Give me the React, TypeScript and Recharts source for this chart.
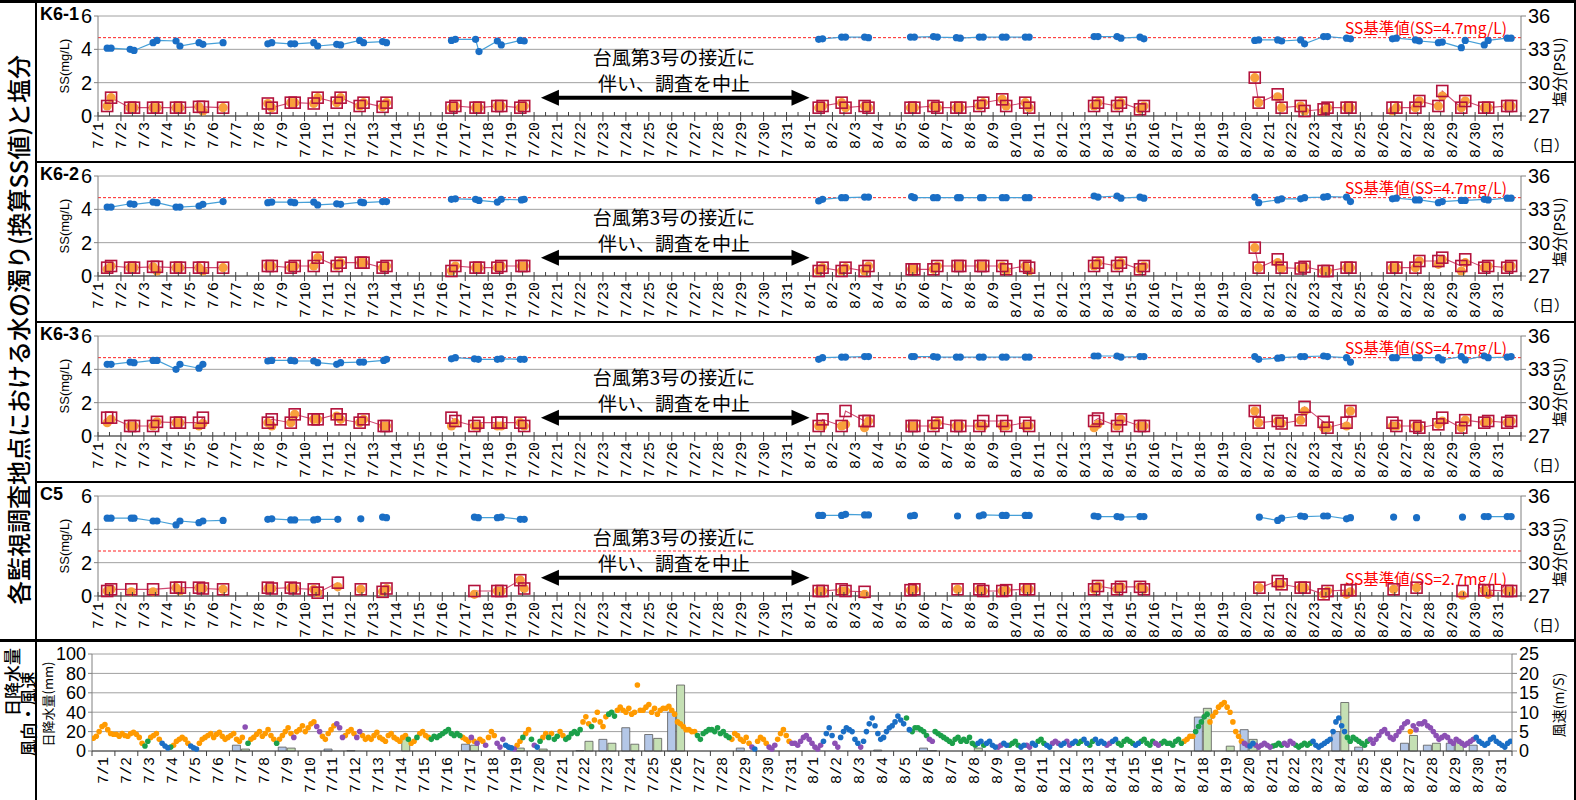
import React from 'react'
import {
  ComposedChart, BarChart, Line, Scatter, Bar, XAxis, YAxis, CartesianGrid,
  ReferenceLine, ReferenceDot,
} from 'recharts'

// フォント
const JP = "'Noto Sans CJK JP', 'Noto Sans', sans-serif"
const NARROW = "'Liberation Sans Narrow', 'Liberation Sans', Arial, sans-serif"
const MONO = "'Liberation Mono', 'DejaVu Sans Mono', monospace"

// 日付ラベル (7/1 = 1 ... 8/31 = 62)
const dayLabels = [
  '7/1','7/2','7/3','7/4','7/5','7/6','7/7','7/8','7/9','7/10','7/11','7/12','7/13','7/14','7/15','7/16',
  '7/17','7/18','7/19','7/20','7/21','7/22','7/23','7/24','7/25','7/26','7/27','7/28','7/29','7/30','7/31',
  '8/1','8/2','8/3','8/4','8/5','8/6','8/7','8/8','8/9','8/10','8/11','8/12','8/13','8/14','8/15','8/16',
  '8/17','8/18','8/19','8/20','8/21','8/22','8/23','8/24','8/25','8/26','8/27','8/28','8/29','8/30','8/31',
]

// 各地点の観測値: [時刻(日), SS上層(□), SS下層(●), 塩分]  null = 線を切る
type Row = [number, number | null, number | null, number] | null

const k61Rows: Row[] = [
  [1.4,.6,.6,33.1],[1.57,1.1,1.1,33.1],[2.4,.5,.5,33.0],[2.57,.5,.5,32.9],[3.4,.5,.5,33.6],[3.57,.5,.5,33.8],
  [4.4,.5,.5,33.75],[4.57,.5,.5,33.3],[5.4,.55,.55,33.6],[5.57,.55,.3,33.45],[6.45,.5,.5,33.6],null,
  [8.4,.75,.75,33.5],[8.57,.5,.5,33.6],[9.4,.8,.8,33.5],[9.57,.8,.8,33.5],[10.4,.75,.75,33.6],[10.57,1.1,1.1,33.3],
  [11.4,.8,.8,33.45],[11.57,1.1,1.1,33.4],[12.4,.6,.6,33.8],[12.57,.8,.8,33.6],[13.4,.55,.55,33.7],[13.57,.8,.8,33.6],null,
  [16.4,.5,.5,33.8],[16.57,.6,.6,33.9],[17.45,.5,.5,33.9],[17.6,.5,.5,32.8],[18.4,.6,.6,33.75],[18.57,.6,.6,33.4],
  [19.4,.5,.5,33.8],[19.57,.6,.6,33.75],null,
  [32.4,.5,.5,33.9],[32.57,.6,.6,33.95],[33.4,.8,.8,34.1],[33.57,.5,.5,34.1],[34.4,.6,.6,34.1],[34.57,.5,.5,34.05],null,
  [36.4,.5,.5,34.1],[36.57,.5,.5,34.1],[37.4,.6,.6,34.15],[37.57,.5,.5,34.1],[38.4,.5,.5,34.05],[38.57,.5,.5,34.0],
  [39.4,.6,.6,34.1],[39.57,.8,.8,34.1],[40.4,1.0,1.0,34.1],[40.57,.6,.6,34.1],[41.4,.8,.8,34.1],[41.57,.5,.5,34.1],null,
  [44.4,.6,.6,34.15],[44.57,.8,.8,34.15],[45.4,.6,.6,34.15],[45.57,.8,.8,34.0],[46.4,.4,.4,34.1],[46.57,.6,.6,33.95],null,
  [51.4,2.3,2.3,33.8],[51.57,.8,.8,33.85],[52.4,1.3,1.15,33.85],[52.57,.5,.5,33.75],[53.4,.6,.6,33.85],[53.57,.3,.3,33.5],
  [54.4,.4,.3,34.15],[54.57,.5,.5,34.15],[55.4,.5,.5,34.0],[55.57,.5,.5,33.95],null,
  [57.4,.5,.3,33.95],[57.57,.5,.5,34.0],[58.4,.5,.5,33.85],[58.57,.9,.9,33.75],[59.4,.6,.6,33.6],[59.57,1.5,1.2,33.65],
  [60.4,.5,.5,33.15],[60.57,.9,.9,33.8],[61.4,.5,.5,33.4],[61.57,.5,.5,33.8],[62.4,.6,.6,34.0],[62.57,.6,.6,34.0],
]

const k62Rows: Row[] = [
  [1.4,.5,.4,33.2],[1.57,.6,.6,33.2],[2.4,.5,.5,33.5],[2.57,.5,.5,33.45],[3.4,.55,.55,33.65],[3.57,.55,.3,33.6],
  [4.4,.5,.5,33.2],[4.57,.5,.5,33.2],[5.4,.5,.5,33.3],[5.57,.5,.3,33.45],[6.45,.5,.5,33.7],null,
  [8.4,.6,.6,33.6],[8.57,.6,.6,33.65],[9.4,.5,.5,33.65],[9.57,.6,.6,33.6],[10.4,.6,.6,33.65],[10.57,1.1,1.1,33.4],
  [11.4,.6,.6,33.5],[11.57,.8,.8,33.45],[12.45,.8,.8,33.65],[12.57,.8,.8,33.6],[13.4,.5,.5,33.7],[13.57,.6,.6,33.7],null,
  [16.4,.3,.3,33.9],[16.57,.6,.6,33.95],[17.45,.5,.5,33.9],[17.6,.5,.5,33.8],[18.4,.5,.5,33.65],[18.57,.6,.6,33.9],
  [19.45,.6,.6,33.85],[19.57,.6,.6,33.9],null,
  [32.4,.3,.3,33.75],[32.57,.5,.5,33.9],[33.4,.3,.3,34.05],[33.57,.5,.5,34.05],[34.4,.3,.3,34.1],[34.57,.6,.6,34.1],null,
  [36.45,.4,.4,34.15],[36.57,.4,.4,34.05],[37.4,.4,.4,34.05],[37.57,.6,.6,34.05],[38.45,.6,.6,34.05],[38.57,.6,.6,34.05],
  [39.45,.6,.6,34.05],[39.57,.6,.6,34.05],[40.4,.6,.6,34.05],[40.57,.4,.3,34.05],[41.4,.6,.6,34.05],[41.57,.5,.3,34.05],null,
  [44.4,.6,.6,34.2],[44.57,.8,.8,34.1],[45.4,.6,.6,34.2],[45.57,.8,.8,34.0],[46.4,.4,.4,34.1],[46.57,.6,.6,34.0],null,
  [51.4,1.7,1.7,34.1],[51.57,.5,.5,33.6],[52.4,1.0,.8,33.85],[52.57,.5,.45,33.95],[53.4,.45,.45,33.95],[53.57,.55,.55,34.05],
  [54.4,.3,.3,34.1],[54.57,.3,.3,34.15],[55.4,.5,.5,34.1],[55.57,.5,.5,33.7],null,
  [57.4,.5,.5,33.95],[57.57,.5,.5,34.0],[58.4,.5,.5,33.85],[58.57,.9,.9,33.85],[59.4,.9,.7,33.6],[59.57,1.1,1.0,33.7],
  [60.4,.6,.3,33.8],[60.57,1.0,.8,33.8],[61.4,.5,.5,33.9],[61.57,.6,.6,33.85],[62.4,.5,.5,34.0],[62.57,.6,.6,34.0],
]

const k63Rows: Row[] = [
  [1.4,1.1,.8,33.45],[1.57,1.1,1.0,33.45],[2.4,.6,.6,33.65],[2.57,.6,.6,33.6],[3.4,.6,.6,33.8],[3.57,.85,.85,33.8],
  [4.4,.8,.8,33.0],[4.57,.8,.8,33.45],[5.4,.8,.6,33.1],[5.57,1.1,.75,33.45],null,
  [8.4,.8,.8,33.75],[8.57,1.0,.6,33.8],[9.4,.8,.8,33.8],[9.57,1.3,1.3,33.75],[10.4,1.0,1.0,33.75],[10.57,1.0,1.0,33.6],
  [11.4,1.3,1.2,33.45],[11.57,1.0,1.0,33.6],[12.4,.8,.8,33.65],[12.57,1.0,1.0,33.65],[13.45,.6,.6,33.8],[13.57,.6,.6,33.9],null,
  [16.4,1.1,.6,33.95],[16.57,.9,.8,34.05],[17.4,.6,.6,33.95],[17.57,.8,.6,33.9],[18.4,.8,.6,33.9],[18.57,.8,.6,33.95],
  [19.4,.8,.8,33.9],[19.57,.6,.6,33.9],null,
  [32.4,.6,.6,33.9],[32.57,1.0,.6,34.05],[33.4,.6,.6,34.1],[33.57,1.5,.7,34.1],[34.4,.9,.5,34.15],[34.57,.9,.9,34.15],null,
  [36.45,.6,.6,34.15],[36.57,.6,.6,34.15],[37.4,.6,.6,34.15],[37.57,.8,.8,34.1],[38.4,.6,.6,34.1],[38.57,.6,.6,34.1],
  [39.4,.6,.6,34.1],[39.57,.9,.6,34.1],[40.4,.9,.6,34.1],[40.57,.6,.6,34.1],[41.4,.8,.6,34.1],[41.57,.6,.6,34.1],null,
  [44.4,.9,.5,34.2],[44.57,1.05,.7,34.2],[45.4,.6,.6,34.2],[45.57,1.0,1.0,34.1],[46.4,.6,.6,34.15],[46.57,.6,.6,34.15],null,
  [51.4,1.5,1.5,34.15],[51.57,.8,.8,33.9],[52.4,.9,.9,34.0],[52.57,.75,.75,34.05],[53.4,.95,.95,34.15],[53.57,1.75,1.5,34.15],
  [54.4,.85,.5,34.2],[54.57,.5,.5,34.15],[55.4,.8,.6,34.05],[55.57,1.5,1.5,33.65],null,
  [57.4,.8,.6,34.05],[57.57,.6,.6,34.05],[58.4,.6,.6,34.05],[58.57,.5,.5,34.05],[59.4,.7,.7,34.05],[59.57,1.1,.9,33.85],
  [60.4,.5,.5,34.15],[60.57,.95,.95,33.85],[61.4,.8,.8,34.2],[61.57,.9,.9,34.05],[62.4,.8,.8,34.1],[62.57,.9,.9,34.15],
]

const c5Rows: Row[] = [
  [1.4,.3,.3,34.0],[1.57,.4,.4,34.0],[2.45,.4,.25,34.0],[2.57,null,null,34.0],[3.4,.4,.25,33.75],[3.57,null,null,33.75],
  [4.4,.5,.5,33.4],[4.57,.5,.3,33.75],[5.4,.5,.5,33.6],[5.57,.45,.45,33.75],[6.45,.4,.4,33.8],null,
  [8.4,.5,.45,33.9],[8.57,.45,.45,33.95],[9.4,.5,.5,33.85],[9.57,.45,.45,33.85],[10.4,.4,.4,33.85],[10.57,.2,.2,33.9],
  [11.45,.8,.55,33.9],null,[12.45,.4,.4,33.95],null,[13.4,.25,.25,34.1],[13.57,.45,.45,34.05],null,
  [17.4,.3,.1,34.1],[17.57,null,null,34.05],[18.4,.3,.3,34.05],[18.57,.3,.3,34.1],[19.4,.95,.95,33.9],[19.57,.45,.45,33.9],null,
  [32.4,.3,.3,34.25],[32.57,.3,.3,34.25],[33.4,.4,.3,34.25],[33.57,.3,.3,34.35],[34.4,.25,.1,34.3],[34.57,null,null,34.3],null,
  [36.4,.35,.35,34.2],[36.57,.4,.4,34.25],null,[38.45,.4,.4,34.2],null,
  [39.4,.4,.4,34.2],[39.57,.3,.3,34.3],[40.4,.3,.3,34.25],[40.57,.35,.35,34.25],[41.4,.4,.4,34.25],[41.57,.4,.4,34.25],null,
  [44.4,.4,.4,34.2],[44.57,.6,.6,34.15],[45.4,.4,.4,34.15],[45.57,.55,.55,34.1],[46.4,.55,.55,34.15],[46.57,.4,.4,34.15],null,
  [51.6,.5,.5,34.1],[52.4,.9,.7,33.8],[52.57,.7,.7,34.0],[53.4,.5,.5,34.2],[53.57,.5,.5,34.15],
  [54.4,.1,.1,34.2],[54.57,.3,.3,34.2],[55.4,.35,.1,33.95],[55.57,.35,.25,34.05],null,
  [57.45,.4,.4,34.1],null,[58.45,.5,.5,34.05],null,[60.45,.3,.05,34.1],null,
  [61.4,.35,.35,34.15],[61.57,.35,.1,34.15],[62.4,.3,.3,34.15],[62.57,.3,.3,34.15],
]

// 日降水量 (mm) 2地点
const rainBlue = [
  0,0,0,0,0,0,6,0,4,0,2,0.5,0,0,0,0,7,0,0,0,0,0.5,12,24,17,40,0,0,3,0,0,
  0,0,0,1,0,3,0,0,0,0,0,0,0,0,0,0,0,35,0,22,0,0,0,20,4,0,8,6,8,6,
]
const rainGreen = [
  0,0,0,0,0,0,2,0,3,0,0,0,0,14,0,0,6,0,3,2,0,10,8,7,13,68,0,0,0,0,0,
  0,0,0,0,0,0.5,0,3,0,0,0,0,0,0,0,0,0,44,5,12,0,0,0,50,0,0,16,8,10,0,
]

// 風速 (m/s) 3時間毎、1日8個
const windSpeed = [
  [3.3,3.8,5,6.3,6.8,5.5,4.5,4.3],[4.3,3.8,4.5,4,3.8,4.5,4.8,4.3],[3.5,2,1.3,2.5,3.5,4,4.5,3],[2,1.3,.8,1,1.5,2.5,3,3.5],
  [3,2,1.3,.8,.5,2,3,3.5],[4,4.5,3.5,4.3,4.8,3.8,3,3.5],[4,4.5,3,2.5,3.5,6.2,2,3],[3.5,4.3,5,3.8,4.5,5.5,4,3],
  [2,3,4,5,6,4.5,3.5,5],[5.5,6.5,5,6,7,7.5,6.3,5],[3.8,3,4.5,5.5,6.5,7,6,3.5],[4,5,5.5,4.5,3.5,5,4,3],
  [3.5,3,4,4.8,3.5,3,2.5,4],[4.5,3.5,3,2.5,3.5,4,3,2],[2.5,3.5,4.5,5,4,3.5,3,3.8],[3.5,4,4.5,5,5.5,4.5,4,4.5],
  [4,3.5,3,2.5,3.5,2.5,2,3],[2.5,1.5,3.5,5,4,2,1,3],[1.5,1,.8,.5,1.5,2.5,3.5,4.5],[5.5,3,1.5,1,2.5,3.5,4.5,3.5],
  [4.5,3,3.8,5,4,3,3.5,4.5],[5,4.5,5.5,7.5,8.8,7,6.3,8],[10,7.5,6.3,8.8,9.5,10,9,10.5],[11.3,10.5,10,11,9.5,10,17,10.5],
  [10.5,11.3,12,10,11,9.5,10.5,11],[11,11.5,10.5,9.5,7.5,7,6.3,5.5],[5.5,5,5,4,3,4.5,5,5.5],[5.5,5,6,4.5,5,4,3.5,3],
  [4.5,4,3,2.5,3.5,2,1,.5],[2.5,3.5,3,2,1,.5,1.5,3],[4.5,5.5,4,2.5,2,2,1.5,2.5],
  [3.5,4,3,2,1,.5,1.5,2.5],[4.5,6,4,2,1,3.5,5,6],[5.5,5,3,2,1,2.5,5,7],[8.5,6.5,4.5,3,3.5,5,6,6.5],
  [7.5,9,8,7,8.5,5.5,5,6],[6,5.5,5,4,3,2.5,5,4.5],[4,3.5,3,2.5,2,3,3.5,2.5],[3,2.5,3.5,2,1.5,2,2.5,1.5],
  [2,2.5,1.5,1,1,1.5,2,1.5],[1.5,2,2.5,1.5,1,1.5,1.5,1],[2,1.5,2.5,3,2,1.5,1,2],[2.5,2,1.5,2,2.5,1.5,2,2.5],
  [2,2.5,3,2,1.5,2.5,3,2],[2.5,2,1.5,2,2.5,3,2,1.5],[2.5,3,2.5,2,1.5,2,2.5,3],[2,1.5,2.5,2,1.5,2,2.5,2],
  [2,1.5,2.5,3,2,2.5,3,3.8],[3.8,5,6.3,7.5,8.8,9.5,7.5,9],[10,11.3,12,12.5,11.3,10,7.5,5],[3.8,2.5,2,1.5,1.3,2,1.5,1],
  [1.5,2,1.5,1,1.3,1.5,2,1.5],[2,1.5,2.5,2,1.5,1,1.5,2],[1.5,2,2.5,1.5,1,1.5,2,2.5],[3,5,7.5,8.5,6.5,5,3.5,2.5],
  [3.5,3,2.5,2,1.5,2.5,3,2],[3,4,5,5.5,4.5,3.5,3,4],[5,6,7,7.5,5,6.5,5.5,7],[7,7.5,6.5,6,5,4,3,3.5],
  [4,3.5,2.5,2,3,2.5,2,1.5],[2,2.5,3,3.5,2.5,2,1.5,2],[3,3.5,2.5,2,1.5,1,2,2.5],
]
// 風向区分 (O/G/P/B = 凡例の4区分)
const windDir = [
  'OOOOOOOO','OOOOOOOO','OOGGOOOO','BBBGOOOO','OOBBBOOO','OOOOOOOO','OOOOOPGO','OOOOOOOO',
  'GOOOOOPO','OOOOOOPP','OOOOOPPP','OOOOPPOO','OOOOOOOO','OOOOOOGO','OGOOOOGG','GGGGGGGG',
  'GOOOPOPO','OPOOOPPP','BBBPOOGO','OGPBGOOG','OGGOOGGG','GGGOOOGO','OOOOGGGO','OOOOOOOO',
  'OOOOOOOO','OOOOOOOO','OOOGGGGG','GGGGGGGO','OOOOOOPB','OOOOPPPO','OOOOPPPP',
  'PPPPPPPB','BBBPPBBB','BBBBPBBB','BBBBBBBB','BBBBGBGG','GGGGPPGG','GGGGGGGG','GGGGGBBG',
  'BBBBPPBB','GGGGBBPP','BBGGGBBP','PPBBPPBB','GGBBGGBB','BBPPBBGG','GGGGBBGG','GGGPPGGG',
  'GGGGGOOO','OGGGGGOO','OOOOOOOO','OOPPBBPP','PPPPGGGG','PPPPGGGG','GGBBBBBB','BBBBBBGG',
  'GGGGGGPP','PPPPPPPP','PPPPOPPP','PPPPPPPP','PPPPPPPP','PPPBBBBB','BBBBBBBB',
]
const dirColors: Record<string, string> = { O: '#ff9a00', G: '#1ca04a', P: '#8c50b4', B: '#1a6ec5' }

const halfTicks = Array.from({ length: 125 }, (_, i) => 1 + i / 2)
const dayTicks = Array.from({ length: 63 }, (_, i) => i + 1)

function toSeries(rows: Row[], idx: number) {
  const out: { t: number; v: number | null }[] = []
  rows.forEach((r) => {
    if (r === null) {
      if (out.length) out.push({ t: out[out.length - 1].t + 0.01, v: null })
      return
    }
    if (r[idx] == null) return
    out.push({ t: r[0], v: r[idx] as number })
  })
  return out
}

// 上段パネルの日付目盛
function DayTick(props: any) {
  const { x, y, payload } = props
  const v = payload.value
  const axisY = y - 7
  const isDay = Number.isInteger(v)
  return (
    <g>
      <line x1={x} x2={x} y1={axisY - 4} y2={isDay ? axisY + 5 : axisY} stroke="#404040" />
      {isDay && v <= 62 && (
        <text x={x + 5} y={axisY + 6} transform={`rotate(-90 ${x + 5} ${axisY + 6})`} textAnchor="end"
          style={{ fontSize: 15, fontFamily: MONO, fill: '#000' }}>
          {dayLabels[v - 1]}
        </text>
      )}
    </g>
  )
}

// 下段 (日降水量) のレイアウト
const W_LEFT = 54
const W_RIGHT = 62
const BOTTOM_DAY_W = (1536 - W_LEFT - W_RIGHT) / 62
function RainTick(props: any) {
  const { x, y, payload } = props
  const v = payload.value
  const axisY = y - 7
  const lx = x + BOTTOM_DAY_W / 2 + 5
  return (
    <g>
      <line x1={x} x2={x} y1={axisY} y2={axisY + 5} stroke="#404040" />
      {v <= 62 && (
        <text x={lx} y={axisY + 6} transform={`rotate(-90 ${lx} ${axisY + 6})`} textAnchor="end"
          style={{ fontSize: 15, fontFamily: MONO, fill: '#000' }}>
          {dayLabels[v - 1]}
        </text>
      )}
    </g>
  )
}

function BlueDot(p: any) {
  if (p.cy == null || p.payload?.v == null) return <g key={p.key} />
  return <circle key={p.key} cx={p.cx} cy={p.cy} r={3.6} fill="#1a6ec5" />
}
function SquareDot(p: any) {
  if (p.cy == null || p.payload?.v == null) return <g key={p.key} />
  return <rect key={p.key} x={p.cx - 5.5} y={p.cy - 5.5} width={11} height={11} fill="none" stroke="#b3123c" strokeWidth={1.6} />
}
function OrangeDot(p: any) {
  return <circle cx={p.cx} cy={p.cy} r={4.6} fill="#f8a03c" />
}

function StationPanel({ top, rows, std, below }: { top: number; rows: Row[]; std: number; below?: boolean }) {
  const sal = toSeries(rows, 3)
  const upper = toSeries(rows, 1)
  const lower = rows.filter((r) => r && r[2] != null).map((r) => ({ t: r![0], v: r![2] as number }))
  return (
    <div style={{ position: 'absolute', left: 38, top, width: 1536, height: 160 }}>
      <ComposedChart width={1536} height={160} margin={{ top: 14, right: 0, bottom: 0, left: 0 }}>
        <CartesianGrid yAxisId="left" vertical={false} stroke="#a0a0a0" />
        <XAxis dataKey="t" type="number" domain={[1, 63]} ticks={halfTicks} interval={0} height={46}
          tick={<DayTick />} tickLine={false} tickSize={5} tickMargin={2} axisLine={{ stroke: '#404040' }} allowDataOverflow />
        <YAxis yAxisId="left" domain={[0, 6]} ticks={[0, 2, 4, 6]} interval={0} width={60} tickSize={4}
          axisLine={{ stroke: '#808080' }} tickLine={{ stroke: '#808080' }}
          tick={{ fontSize: 20, fill: '#000', fontFamily: NARROW }} />
        <YAxis yAxisId="right" orientation="right" domain={[27, 36]} ticks={[27, 30, 33, 36]} interval={0} width={53} tickSize={5}
          axisLine={{ stroke: '#808080' }} tickLine={{ stroke: '#808080' }}
          tick={{ fontSize: 20, fill: '#000', fontFamily: NARROW }} />
        <ReferenceLine yAxisId="left" y={std} stroke="#ff2020" strokeDasharray="3 2" strokeWidth={1}
          label={(lp: any) => {
            const vb = lp.viewBox
            return (
              <text x={vb.x + vb.width - 14} y={below ? vb.y + 34 : vb.y - 4} textAnchor="end"
                style={{ fontSize: 15.5, fontFamily: JP, fill: '#ff0000' }}>
                {`SS基準値(SS=${std}mg/L)`}
              </text>
            )
          }} />
        <Line yAxisId="right" data={sal} dataKey="v" stroke="#46a0d8" strokeWidth={1.2}
          dot={BlueDot} activeDot={false} isAnimationActive={false} />
        <Scatter yAxisId="left" data={lower} dataKey="v" shape={OrangeDot} isAnimationActive={false} />
        <Line yAxisId="left" data={upper} dataKey="v" stroke="#d04a72" strokeWidth={1.1}
          dot={SquareDot} activeDot={false} isAnimationActive={false} />
        <ReferenceLine yAxisId="left" segment={[{ x: 20.9, y: 1.1 }, { x: 31.4, y: 1.1 }]} stroke="#000" strokeWidth={4} />
        <ReferenceDot yAxisId="left" x={20.3} y={1.1} r={0}
          shape={(p: any) => <polygon points={`${p.cx},${p.cy} ${p.cx + 18},${p.cy - 8} ${p.cx + 18},${p.cy + 8}`} fill="#000" />} />
        <ReferenceDot yAxisId="left" x={32.0} y={1.1} r={0}
          shape={(p: any) => <polygon points={`${p.cx},${p.cy} ${p.cx - 18},${p.cy - 8} ${p.cx - 18},${p.cy + 8}`} fill="#000" />} />
        <ReferenceDot yAxisId="left" x={26.1} y={2.8} r={0}
          shape={(p: any) => (
            <g style={{ fontSize: 19, fontFamily: JP, fill: '#000' }}>
              <text x={p.cx} y={p.cy - 13} textAnchor="middle" dominantBaseline="central">台風第3号の接近に</text>
              <text x={p.cx} y={p.cy + 13} textAnchor="middle" dominantBaseline="central">伴い、調査を中止</text>
            </g>
          )} />
      </ComposedChart>
    </div>
  )
}

function WindDot(p: any) {
  return <circle cx={p.cx} cy={p.cy} r={2.8} fill={p.fill} />
}

const W_MARGIN = { top: 12, right: 0, bottom: 0, left: 0 }
const rainTicks = [0, 20, 40, 60, 80, 100]

function WeatherPanel() {
  const rainRows = dayLabels.map((d, i) => ({ day: d, blue: rainBlue[i], green: rainGreen[i] }))
  const windPts = windSpeed.flatMap((day, d) => day.map((s, i) => ({ t: d + 1 + (i + 0.5) / 8, v: s, dir: windDir[d][i] })))
  return (
    <div style={{ position: 'absolute', left: 38, top: 642, width: 1536, height: 158 }}>
      {/* 日降水量 (カテゴリ軸) */}
      <div style={{ position: 'absolute', left: 0, top: 0 }}>
        <BarChart width={1536} height={158} data={rainRows} margin={W_MARGIN} barSize={8} barGap={1}>
          <CartesianGrid yAxisId="left" vertical={false} stroke="#a0a0a0" />
          <XAxis dataKey="day" height={49} tick={false} tickLine={false} axisLine={false} />
          <YAxis yAxisId="left" domain={[0, 100]} ticks={rainTicks} interval={0} width={W_LEFT} tickSize={4}
            axisLine={{ stroke: '#808080' }} tickLine={{ stroke: '#808080' }}
            tick={{ fontSize: 18, fill: '#000', fontFamily: NARROW }} />
          <YAxis yAxisId="right" orientation="right" domain={[0, 25]} width={W_RIGHT} tick={false} tickLine={false} axisLine={false} />
          <Bar yAxisId="left" dataKey="blue" fill="#b4c7e7" stroke="#595959" strokeWidth={0.8} isAnimationActive={false} />
          <Bar yAxisId="left" dataKey="green" fill="#c5e0b4" stroke="#595959" strokeWidth={0.8} isAnimationActive={false} />
        </BarChart>
      </div>
      {/* 風向・風速 */}
      <div style={{ position: 'absolute', left: 0, top: 0 }}>
        <ComposedChart width={1536} height={158} margin={W_MARGIN}>
          <XAxis dataKey="t" type="number" domain={[1, 63]} ticks={dayTicks} interval={0} height={49}
            tick={<RainTick />} tickLine={false} tickSize={5} tickMargin={2} axisLine={{ stroke: '#404040' }} allowDataOverflow />
          <YAxis yAxisId="left" domain={[0, 100]} width={W_LEFT} tick={false} tickLine={false} axisLine={false} />
          <YAxis yAxisId="right" orientation="right" domain={[0, 25]} ticks={[0, 5, 10, 15, 20, 25]} interval={0} width={W_RIGHT} tickSize={5}
            axisLine={{ stroke: '#808080' }} tickLine={{ stroke: '#808080' }}
            tick={{ fontSize: 18, fill: '#000', fontFamily: NARROW }} />
          {Object.keys(dirColors).map((k) => (
            <Scatter key={k} yAxisId="right" data={windPts.filter((w) => w.dir === k)} dataKey="v"
              fill={dirColors[k]} shape={WindDot} isAnimationActive={false} />
          ))}
        </ComposedChart>
      </div>
    </div>
  )
}

function VText({ x, y, size, family = JP, weight = 400, children }: any) {
  return (
    <div style={{
      position: 'absolute', left: x, top: y, transform: 'translate(-50%, -50%) rotate(-90deg)',
      whiteSpace: 'nowrap', fontSize: size, fontFamily: family, fontWeight: weight, lineHeight: 1, color: '#000',
    }}>{children}</div>
  )
}

function HLine({ y, x = 36, h = 2 }: { y: number; x?: number; h?: number }) {
  return <div style={{ position: 'absolute', left: x, top: y, width: 1576 - x, height: h, background: '#000' }} />
}

const stations = [
  { name: 'K6-1', rows: k61Rows, std: 4.7, top: 2 },
  { name: 'K6-2', rows: k62Rows, std: 4.7, top: 162 },
  { name: 'K6-3', rows: k63Rows, std: 4.7, top: 322 },
  { name: 'C5', rows: c5Rows, std: 2.7, top: 482 },
]

export default function App() {
  return (
    <div style={{ position: 'fixed', left: 0, top: 0, width: 1576, height: 800, background: '#fff', overflow: 'hidden' }}>
      {stations.map((s) => (
        <React.Fragment key={s.name}>
          <StationPanel top={s.top} rows={s.rows} std={s.std} below={s.std < 3} />
          <div style={{ position: 'absolute', left: 40, top: s.top + 2, fontSize: 18, fontWeight: 700, fontFamily: NARROW }}>{s.name}</div>
          <VText x={64} y={s.top + 64} size={13} family={NARROW}>SS(mg/L)</VText>
          <VText x={1558} y={s.top + 70} size={15}>塩分(PSU)</VText>
          <div style={{ position: 'absolute', left: 1524, top: s.top + 132, fontSize: 15, fontFamily: JP }}>（日）</div>
        </React.Fragment>
      ))}
      <WeatherPanel />
      <VText x={47} y={704} size={13}>日降水量(mm)</VText>
      <VText x={1558} y={705} size={14}>風速(m/S)</VText>

      <VText x={18} y={330} size={24} weight={500}>各監視調査地点における水の濁り(換算SS値)と塩分</VText>
      <VText x={11} y={682} size={17} weight={500}>日降水量</VText>
      <VText x={27} y={714} size={17} weight={500}>風向・風速</VText>

      {/* 枠線 */}
      <HLine y={0} x={0} h={3} />
      <HLine y={161} />
      <HLine y={321} />
      <HLine y={481} />
      <HLine y={639} x={0} h={3} />
      <div style={{ position: 'absolute', left: 35, top: 0, width: 2, height: 800, background: '#000' }} />
      <div style={{ position: 'absolute', left: 1574, top: 0, width: 2, height: 800, background: '#000' }} />
    </div>
  )
}
